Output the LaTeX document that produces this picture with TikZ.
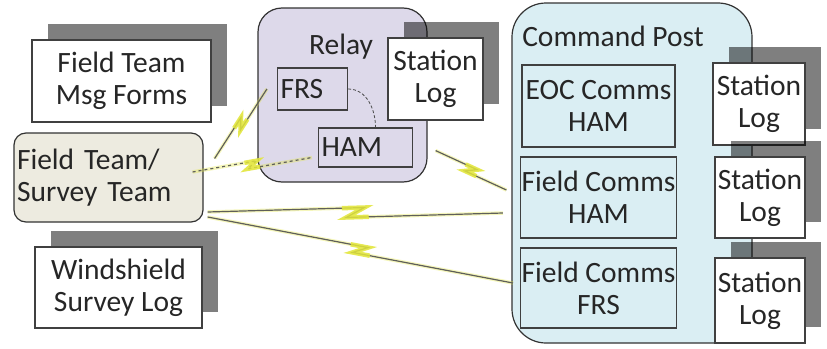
\documentclass[tikz,border=0pt]{standalone}
\usepackage{fontspec}
\setmainfont{Carlito}
\usetikzlibrary{calc,shadows}

\definecolor{relayfill}{RGB}{221,217,234}
\definecolor{postfill}{RGB}{218,238,243}
\definecolor{teamfill}{RGB}{237,235,224}
\definecolor{boltyellow}{RGB}{226,230,60}
\definecolor{linkgray}{RGB}{95,95,90}
\definecolor{inkgray}{RGB}{38,38,38}

\tikzset{
  logbox/.style={draw=black!75,line width=1.2pt,fill=white,align=center,inner sep=1pt,
    drop shadow={shadow xshift=16pt,shadow yshift=16pt,fill=black,opacity=0.5}},
  radiobox/.style={draw=black!75,line width=1.2pt,align=center,inner sep=1pt},
  site/.style={draw=black!80,line width=1.2pt,rounded corners=#1},
  link/.style={draw=linkgray,line width=1.2pt},
  linkglow/.style={draw=boltyellow,line width=3.5pt,opacity=0.35},
  boltpart/.style={draw=boltyellow,line width=4.5pt,opacity=0.85,line join=miter},
}

% gray link with a yellow lightning jog in the middle
% #1 extra options, #2 start, #3 end, #4 half jog, #5 side offset
\newcommand\boltlink[5][]{%
  \path ($(#2)!0.5!(#3)$) coordinate (bm);
  \path ($(bm)!#4!(#3)$) coordinate (bu);
  \path ($(bm)!#5!90:(#3)$) coordinate (bn);
  \path ($(bu)+(bn)-(bm)$) coordinate (jogA);
  \path ($3*(bm)-(bu)-(bn)$) coordinate (jogB);
  \draw[linkglow] (#2) -- (jogA) -- (jogB) -- (#3);
  \draw[link,#1] (#2) -- (jogA) -- (jogB) -- (#3);
  \draw[boltpart] ($(jogA)!2.5*#4!(#2)$) -- (jogA) -- (jogB) -- ($(jogB)!2.5*#4!(#3)$);
}

\begin{document}
\begin{tikzpicture}[x=1pt,y=-1pt,font=\fontsize{29.5}{32}\selectfont,text=inkgray]
\useasboundingbox (0,0) rectangle (827,348);

%left side
\node[logbox,minimum width=179pt,minimum height=82pt] (msgforms) at (121.5,81) {Field Team\\Msg Forms};
\node[logbox,minimum width=167pt,minimum height=81pt] (windlog) at (118.5,287.5) {Windshield\\Survey Log};
\node[site=12pt,fill=teamfill,text width=183pt,align=left,inner xsep=3pt,minimum height=89pt] (team) at (108.5,177.5) {Field Team/\\Survey Team};

%relay
\node[site=24pt,fill=relayfill,minimum width=169pt,minimum height=174pt] (relay) at (342.5,95) {};
\node (relaylabel) at (341,47) {Relay};
\node[radiobox,text width=64pt,align=left,inner xsep=3pt,minimum height=42pt] (frs) at (312.5,89) {FRS};
\node[radiobox,text width=88pt,align=left,inner xsep=3pt,minimum height=39pt] (ham) at (365.5,147.5) {HAM};
\draw[densely dashed,line width=0.8pt,black!70] (frs.east) to[out=0,in=90] ([xshift=10pt]ham.north);
\node[logbox,minimum width=95pt,minimum height=82pt] (relaylog) at (435.5,79) {Station\\Log};

%command post
\node[site=34pt,fill=postfill,minimum width=240pt,minimum height=340pt] (post) at (632,173) {};
\node (postlabel) at (613,36) {Command Post};
\node[radiobox,minimum width=153pt,minimum height=82pt] (eoc) at (598.5,106) {EOC Comms\\HAM};
\node[radiobox,minimum width=153pt,minimum height=81pt] (fch) at (598.5,197.5) {Field Comms\\HAM};
\node[radiobox,minimum width=153pt,minimum height=80pt] (fcf) at (598.5,288) {Field Comms\\FRS};
\node[logbox,minimum width=92pt,minimum height=82pt] (log1) at (759,104) {Station\\Log};
\node[logbox,minimum width=90pt,minimum height=81pt] (log2) at (760,197.5) {Station\\Log};
\node[logbox,minimum width=90pt,minimum height=85pt] (log3) at (760,300.5) {Station\\Log};

%link ends
\coordinate (tfrs) at ([shift={(11pt,19pt)}]team.east);
\coordinate (frsin) at ([xshift=-10pt]frs.west);
\coordinate (tham) at ([shift={(-11pt,5.5pt)}]team.east);
\coordinate (hamin) at ([shift={(-6pt,-10pt)}]ham.west);
\coordinate (relout) at ([shift={(8pt,32pt)}]relay.south east);
\coordinate (cpin) at ([shift={(-5pt,-17pt)}]post.west);
\coordinate (tfch) at ([shift={(4pt,-34.5pt)}]team.east);
\coordinate (fchin) at ([shift={(-17pt,-15.5pt)}]fch.west);
\coordinate (tfcf) at ([shift={(4pt,-39.5pt)}]team.east);
\coordinate (fcfin) at ([shift={(-7pt,5pt)}]fcf.west);

%radio links
\boltlink{tfrs}{frsin}{5pt}{3.5pt}
\boltlink[dashed]{tham}{hamin}{5pt}{3.5pt}
\boltlink{relout}{cpin}{5pt}{3.5pt}
\boltlink{tfch}{fchin}{9pt}{5pt}
\boltlink{tfcf}{fcfin}{7pt}{4pt}
\end{tikzpicture}
\end{document}
